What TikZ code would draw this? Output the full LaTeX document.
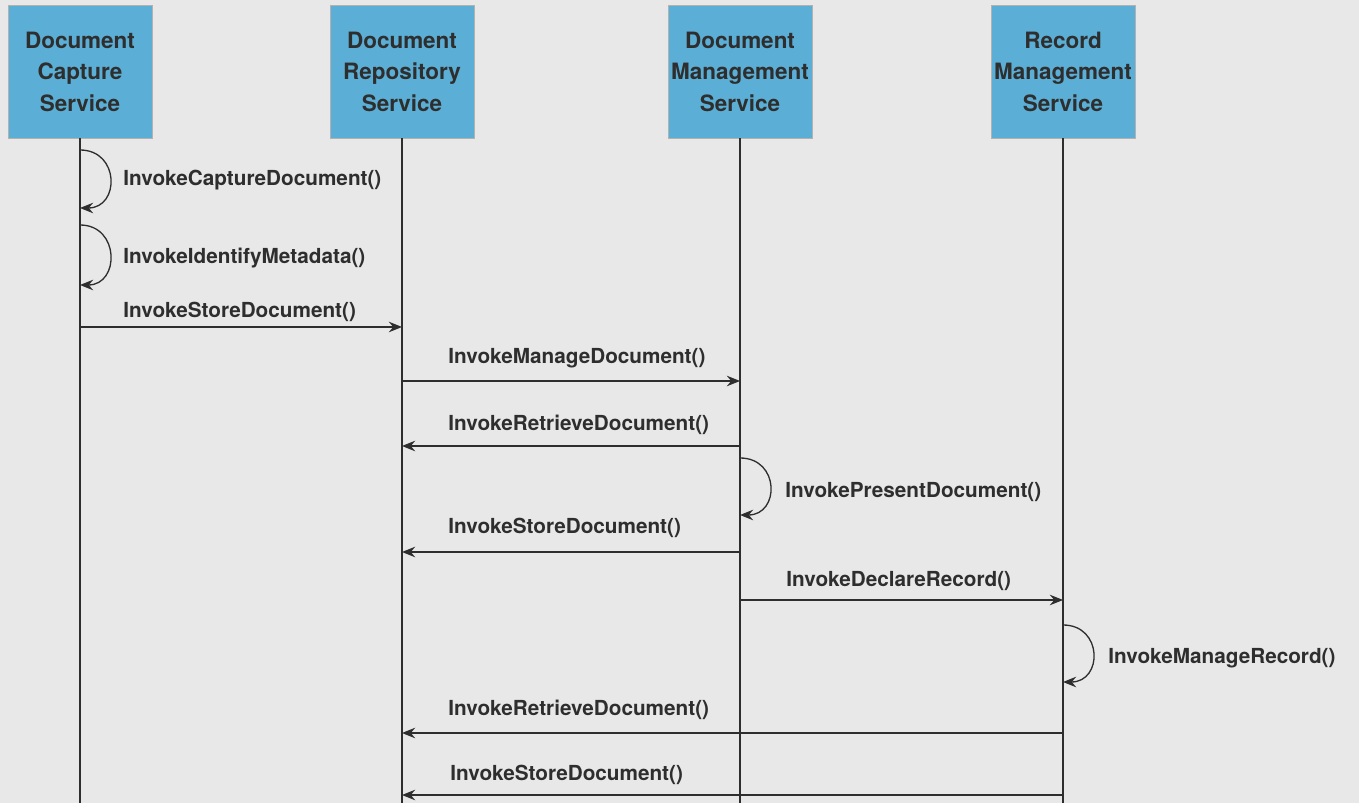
\documentclass[tikz,border=0pt]{standalone}
\usepackage{fontspec}
\setmainfont{TeX Gyre Heros}
\usepackage{xcolor}
\usetikzlibrary{arrows.meta}
\definecolor{paper}{HTML}{E8E8E9}
\definecolor{svcblue}{HTML}{5BAED5}
\definecolor{ink}{HTML}{2E2E2E}

\begin{document}
\begin{tikzpicture}[
    x=0.02cm, y=-0.02cm,
    svc/.style={draw=gray!60, fill=svcblue, minimum width=2.88cm, minimum height=2.66cm, inner sep=0pt, align=center, text=ink, font=\bfseries\fontsize{12.8}{17.9}\selectfont},
    life/.style={draw=ink, line width=0.75pt},
    msg/.style={->, draw=ink, line width=0.75pt, >={Stealth[length=7.5pt, width=6pt, inset=2.5pt]}},
    lbl/.style={anchor=west, inner sep=0pt, text=ink, font=\bfseries\fontsize{11.8}{14}\selectfont}
]
\fill[paper] (0,0) rectangle (1359,803);
\useasboundingbox (0,0) rectangle (1359,803);

\node[svc] (cap) at (80,71.5) {Document\\Capture\\Service};
\node[svc] (rep) at (402,71.5) {Document\\Repository\\Service};
\node[svc] (mgt) at (740,71.5) {Document\\Management\\Service};
\node[svc] (rec) at (1063,71.5) {Record\\Management\\Service};

\coordinate (capEnd) at (80,803);
\coordinate (repEnd) at (402,803);
\coordinate (mgtEnd) at (740,803);
\coordinate (recEnd) at (1063,803);
\draw[life] (cap) -- (capEnd);
\draw[life] (rep) -- (repEnd);
\draw[life] (mgt) -- (mgtEnd);
\draw[life] (rec) -- (recEnd);

\coordinate (s1a) at (0,150); \coordinate (s1b) at (0,208);
\coordinate (s2a) at (0,225); \coordinate (s2b) at (0,285);
\coordinate (s3a) at (0,458); \coordinate (s3b) at (0,515);
\coordinate (s4a) at (0,625); \coordinate (s4b) at (0,682);
\coordinate (r1) at (0,327);
\coordinate (r2) at (0,381);
\coordinate (r3) at (0,446);
\coordinate (r4) at (0,552);
\coordinate (r5) at (0,600);
\coordinate (r6) at (0,733);
\coordinate (r7) at (0,795);

\draw[msg] (cap |- s1a) .. controls +(40,0) and +(40,0) .. (cap |- s1b);
\node[lbl] (capDoc) at (123,180) {InvokeCaptureDocument()};
\draw[msg] (cap |- s2a) .. controls +(40,0) and +(40,0) .. (cap |- s2b);
\node[lbl] (idMeta) at (123,258) {InvokeIdentifyMetadata()};

\draw[msg] (cap |- r1) -- (rep |- r1);
\node[lbl] (store1) at (123,312) {InvokeStoreDocument()};
\draw[msg] (rep |- r2) -- (mgt |- r2);
\node[lbl] (manage) at (448,358) {InvokeManageDocument()};
\draw[msg] (mgt |- r3) -- (rep |- r3);
\node[lbl] (retr1) at (448,425) {InvokeRetrieveDocument()};

\draw[msg] (mgt |- s3a) .. controls +(40,0) and +(40,0) .. (mgt |- s3b);
\node[lbl] (present) at (785,492) {InvokePresentDocument()};
\draw[msg] (mgt |- r4) -- (rep |- r4);
\node[lbl] (store2) at (448,528) {InvokeStoreDocument()};
\draw[msg] (mgt |- r5) -- (rec |- r5);
\node[lbl] (declare) at (786,581) {InvokeDeclareRecord()};

\draw[msg] (rec |- s4a) .. controls +(40,0) and +(40,0) .. (rec |- s4b);
\node[lbl] (mngRec) at (1108,658) {InvokeManageRecord()};
\draw[msg] (rec |- r6) -- (rep |- r6);
\node[lbl] (retr2) at (448,710) {InvokeRetrieveDocument()};
\draw[msg] (rec |- r7) -- (rep |- r7);
\node[lbl] (store3) at (450,775) {InvokeStoreDocument()};
\end{tikzpicture}
\end{document}
